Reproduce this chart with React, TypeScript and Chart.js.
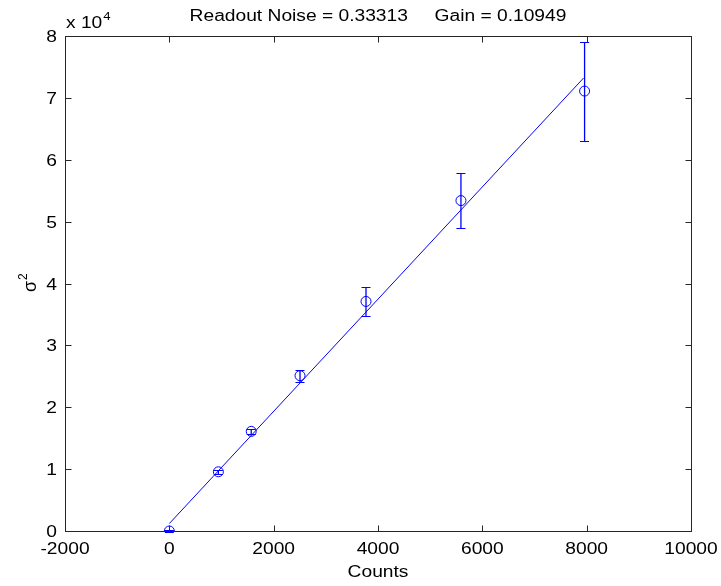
import React, { useEffect, useRef } from "react";
import { Chart, registerables } from "chart.js";

Chart.register(...registerables);

// ---- data ----
const counts = [0, 940, 1570, 2505, 3770, 5590, 7960];
const variance = [0, 9570, 16100, 25100, 37100, 53400, 71100];
const varianceErr = [150, 300, 400, 950, 2300, 4450, 8000];
const fitCounts = [0, 7940];
const fitVariance = [1200, 73200];
const xTicks = [-2000, 0, 2000, 4000, 6000, 8000, 10000];
const yTicks = [0, 10000, 20000, 30000, 40000, 50000, 60000, 70000, 80000];
const titleText = "Readout Noise = 0.33313     Gain = 0.10949";
const xLabel = "Counts";
const yLabel = "σ";
const yLabelSup = "2";
const expBase = "x 10";
const expSup = "4";

const FONT = "'Liberation Sans', Arial, sans-serif";
const BLUE = "#0000ff";
const AXIS = "#262626";
const SX = 1.2; // horizontal stretch of text (wide Helvetica look)

function drawText(ctx: any, text: string, x: number, y: number, size: number, align: string) {
  ctx.save();
  ctx.font = `${size}px ${FONT}`;
  ctx.textAlign = "left";
  ctx.textBaseline = "alphabetic";
  const w = ctx.measureText(text).width * SX;
  let left = x;
  if (align === "center") left = x - w / 2;
  else if (align === "right") left = x - w;
  ctx.translate(left, y);
  ctx.scale(SX, 1);
  ctx.fillText(text, 0, 0);
  ctx.restore();
  return w;
}

const decorPlugin = {
  id: "decor",
  afterDatasetsDraw(chart: any) {
    const { ctx, scales } = chart;
    const xs = scales.x;
    const ys = scales.y;
    ctx.save();
    ctx.strokeStyle = BLUE;
    ctx.lineWidth = 1.3;
    for (let i = 0; i < counts.length; i++) {
      const px = xs.getPixelForValue(counts[i]);
      const top = Math.round(ys.getPixelForValue(variance[i] + varianceErr[i])) + 0.5;
      const bot = Math.round(ys.getPixelForValue(variance[i] - varianceErr[i])) + 0.5;
      ctx.beginPath();
      ctx.moveTo(px, top);
      ctx.lineTo(px, bot);
      ctx.stroke();
      ctx.lineWidth = 1;
      ctx.beginPath();
      ctx.moveTo(px - 4.5, top);
      ctx.lineTo(px + 4.5, top);
      ctx.moveTo(px - 4.5, bot);
      ctx.lineTo(px + 4.5, bot);
      ctx.stroke();
      ctx.lineWidth = 1.3;
    }
    ctx.restore();
  },
  afterDraw(chart: any) {
    const { ctx, chartArea, scales } = chart;
    const xs = scales.x;
    const ys = scales.y;
    const L = Math.round(chartArea.left) + 0.5;
    const R = Math.round(chartArea.right) + 0.5;
    const T = Math.round(chartArea.top) + 0.5;
    const B = Math.round(chartArea.bottom) + 0.5;
    ctx.save();
    ctx.strokeStyle = AXIS;
    ctx.lineWidth = 1;
    ctx.strokeRect(L, T, R - L, B - T);
    const tl = 6;
    ctx.beginPath();
    for (const v of xTicks) {
      const p = Math.round(xs.getPixelForValue(v)) + 0.5;
      ctx.moveTo(p, B);
      ctx.lineTo(p, B - tl);
      ctx.moveTo(p, T);
      ctx.lineTo(p, T + tl);
    }
    for (const v of yTicks) {
      const p = Math.round(ys.getPixelForValue(v)) + 0.5;
      ctx.moveTo(L, p);
      ctx.lineTo(L + tl, p);
      ctx.moveTo(R, p);
      ctx.lineTo(R - tl, p);
    }
    ctx.stroke();

    ctx.fillStyle = "#000";
    for (const v of xTicks) {
      drawText(ctx, String(v), xs.getPixelForValue(v), 554, 16, "center");
    }
    for (const v of yTicks) {
      drawText(ctx, String(v / 10000), chartArea.left - 8, ys.getPixelForValue(v) + 6, 16, "right");
    }
    const cx = (chartArea.left + chartArea.right) / 2;
    drawText(ctx, titleText, cx, 21, 16, "center");
    drawText(ctx, xLabel, cx, 577, 16, "center");
    const w = drawText(ctx, expBase, chartArea.left + 1, 28, 16, "left");
    drawText(ctx, expSup, chartArea.left + 1 + w + 1, 20, 11, "left");
    ctx.save();
    ctx.translate(36, (chartArea.top + chartArea.bottom) / 2);
    ctx.rotate(-Math.PI / 2);
    ctx.font = `18px ${FONT}`;
    ctx.textAlign = "left";
    const sw = ctx.measureText(yLabel).width;
    ctx.fillText(yLabel, -sw / 2 - 3, 0);
    ctx.font = `12px ${FONT}`;
    ctx.fillText(yLabelSup, sw / 2 - 2, -9);
    ctx.restore();
    ctx.restore();
  },
};

export default function App() {
  const ref = useRef<HTMLCanvasElement | null>(null);
  useEffect(() => {
    if (!ref.current) return;
    const chart = new Chart(ref.current, {
      type: "scatter",
      data: {
        datasets: [
          {
            label: "fit",
            data: fitCounts.map((x, i) => ({ x, y: fitVariance[i] })),
            showLine: true,
            borderColor: BLUE,
            borderWidth: 1,
            pointRadius: 0,
            fill: false,
          },
          {
            label: "data",
            data: counts.map((x, i) => ({ x, y: variance[i] })),
            showLine: false,
            pointStyle: "circle",
            pointRadius: 5,
            pointBorderColor: BLUE,
            pointBackgroundColor: "rgba(0,0,0,0)",
            pointBorderWidth: 1,
          },
        ],
      },
      options: {
        animation: false,
        responsive: false,
        devicePixelRatio: 1,
        layout: { padding: { top: 36, right: 30, left: 0, bottom: 0 } },
        plugins: {
          legend: { display: false },
          tooltip: { enabled: false },
          title: { display: false },
        },
        scales: {
          x: {
            type: "linear",
            min: -2000,
            max: 10000,
            afterBuildTicks: (s: any) => {
              s.ticks = xTicks.map((v) => ({ value: v }));
            },
            afterFit: (s: any) => {
              s.height = 55;
            },
            grid: { display: false },
            border: { display: false },
            ticks: { display: false },
          },
          y: {
            type: "linear",
            min: 0,
            max: 80000,
            afterBuildTicks: (s: any) => {
              s.ticks = yTicks.map((v) => ({ value: v }));
            },
            afterFit: (s: any) => {
              s.width = 65;
            },
            grid: { display: false },
            border: { display: false },
            ticks: { display: false },
          },
        },
      },
      plugins: [decorPlugin],
    });
    return () => chart.destroy();
  }, []);
  return (
    <div style={{ position: "fixed", left: 0, top: 0, width: 721, height: 586, background: "#fff" }}>
      <canvas ref={ref} width={721} height={586} style={{ width: 721, height: 586 }} />
    </div>
  );
}
